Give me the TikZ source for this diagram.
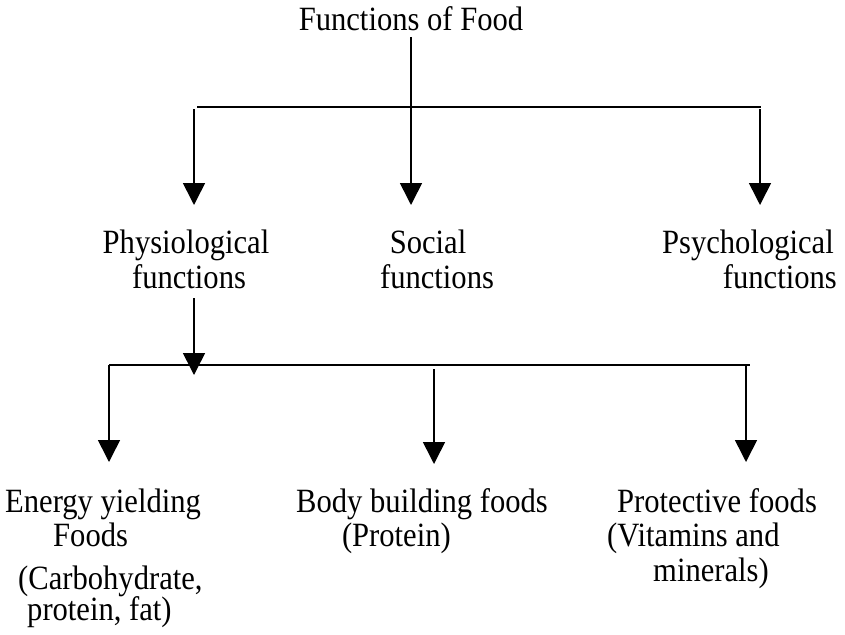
\documentclass[tikz,border=0pt]{standalone}
\usepackage{fontspec}
\setmainfont{Liberation Serif}[FakeStretch=0.9]
\usetikzlibrary{arrows.meta}
\tikzset{
  lbl/.style={inner sep=0pt, font=\fontsize{34}{36}\selectfont},
  bar/.style={line width=1.5pt},
  arr/.style={line width=1.6pt, -{Triangle[width=22pt,length=22pt]}}
}
\begin{document}
\begin{tikzpicture}[x=1pt,y=-1pt]
\useasboundingbox (0,0) rectangle (845,634);
% labels
\node[lbl, anchor=base] (title) at (411,31) {Functions of Food};
\node[lbl, anchor=base] (phys1) at (186,253) {Physiological};
\node[lbl, anchor=base] (phys2) at (189,288) {functions};
\node[lbl, anchor=base] (soc1) at (428,253) {Social};
\node[lbl, anchor=base] (soc2) at (437,288) {functions};
\node[lbl, anchor=base east] (psy1) at (834,253) {Psychological};
\node[lbl, anchor=base east] (psy2) at (837,288) {functions};
\node[lbl, anchor=base west] (en1) at (5,512) {Energy yielding};
\node[lbl, anchor=base west] (en2) at (53,546) {Foods};
\node[lbl, anchor=base west] (en3) at (18,589) {(Carbohydrate,};
\node[lbl, anchor=base west] (en4) at (27,620) {protein, fat)};
\node[lbl, anchor=base west] (bb1) at (296,512) {Body building foods};
\node[lbl, anchor=base east] (bb2) at (451,546) {(Protein)};
\node[lbl, anchor=base west] (pr1) at (617,512) {Protective foods};
\node[lbl, anchor=base west] (pr2) at (607,546) {(Vitamins and};
\node[lbl, anchor=base west] (pr3) at (653,581) {minerals)};
% coordinates
\coordinate (t0) at (411,37);
\coordinate (t1) at (411,205);
\coordinate (hbL) at (197,107);
\coordinate (hbR) at (761,107);
\coordinate (a1s) at (194,109);
\coordinate (a1e) at (194,205);
\coordinate (a3s) at (760,109);
\coordinate (a3e) at (760,205);
\coordinate (p0) at (194,298);
\coordinate (p1) at (194,375);
\coordinate (lbL) at (109,365);
\coordinate (lbR) at (750,365);
\coordinate (b1e) at (109,462);
\coordinate (b2s) at (434,369);
\coordinate (b2e) at (434,464);
\coordinate (b3s) at (746,365);
\coordinate (b3e) at (746,462);
% connectors
\draw[bar] (hbL) -- (hbR);
\draw[arr] (t0) -- (t1);
\draw[arr] (a1s) -- (a1e);
\draw[arr] (a3s) -- (a3e);
\draw[bar] (lbL) -- (lbR);
\draw[arr] (p0) -- (p1);
\draw[arr] (lbL) -- (b1e);
\draw[arr] (b2s) -- (b2e);
\draw[arr] (b3s) -- (b3e);
\end{tikzpicture}
\end{document}
